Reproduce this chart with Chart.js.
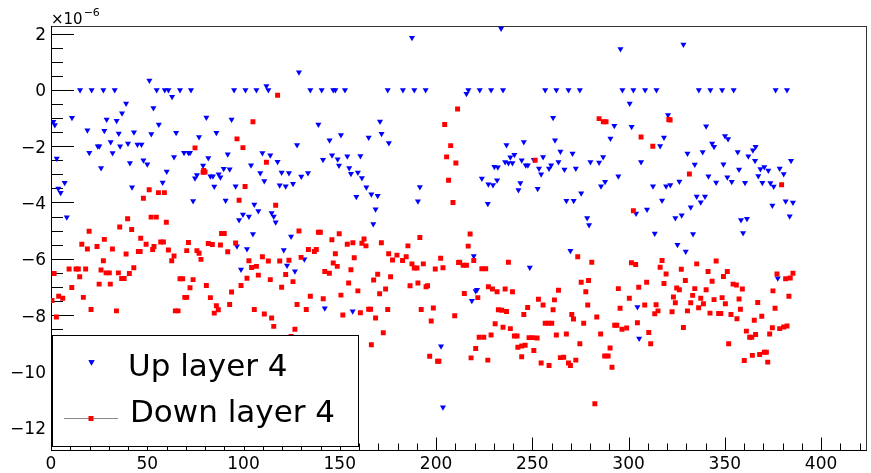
<!DOCTYPE html>
<html><head><meta charset="utf-8">
<script src="https://cdn.jsdelivr.net/npm/chart.js@4/dist/chart.umd.min.js"></script>
<style>html,body{margin:0;padding:0;background:#fff;}#wrap{width:871px;height:473px;position:relative;}</style>
</head><body><div id="wrap"><canvas id="c" width="871" height="473"></canvas></div>
<script>
// ---- data (values in units of 1e-6) ----
const seriesNames = ['Up layer 4', 'Down layer 4'];
const yExponent = '\u22126';
const xTickValues = [0, 50, 100, 150, 200, 250, 300, 350, 400];
const yTickValues = [-12, -10, -8, -6, -4, -2, 0, 2];

const upX = [1.2,2,3,3.8,5,7.1,8.2,10.9,15.1,18.9,19.9,21.1,24.3,25.1,26,27.2,27.7,28.9,31,32,33.1,34.1,35.2,35.9,36.9,39,40,41,42.1,43.1,44.9,47,48,50,51.1,52.1,53.2,54.9,56,58,59.1,60.1,61,62.9,63.9,65,67,69.1,71.4,72.2,72.7,
73.8,74.8,75.8,76.9,79,80.7,81.7,82.8,84.1,84.8,85.9,87.1,88,89.7,90.7,91.8,92.8,93.8,95.1,95.9,96.6,97.7,98.7,99.7,101,101.8,102.8,103.9,104.9,105.6,106.7,107.7,108.7,109.8,110.8,111.9,112.9,113.9,114.6,115.7,116.7,117.7,118.8,119.8,120.9,121.9,122.6,123.6,124.7,125.7,126.7,127.8,128.8,130,131.6,133.5,134.7,138.9,140.6,141.3,142.2,
144.7,146,146.6,147.7,148.9,149.6,150.6,152.7,153.9,154.9,155.8,156.7,158.6,159.4,160.7,161.5,163.8,165,166.4,167.4,168.6,169.7,170.9,171.7,174.9,175.5,182.8,187.5,188.7,190.6,191.6,194.6,202.6,203.6,
215.8,216.8,218.6,219.6,220.6,221.3,222.7,223.8,226.9,227.2,228.6,229.6,230.3,231.7,232.1,233.8,234.8,235.9,236.6,237.6,238.6,239.7,240.7,242.8,243.8,244.5,245.6,246.6,247.7,248.7,250.8,252.8,253.5,254.6,255.6,256.7,258.7,259.8,260.8,261.8,262.5,263.6,264.6,266.7,267.7,268.8,269.8,270.9,271.5,272.6,274.7,275.4,278.5,279.5,280.2,
284.7,285.7,286.8,287.8,290.6,292.6,294.7,295.8,296.8,300.6,301.6,302.5,303.9,304.6,305.5,306.5,308.6,309.6,312.7,313.6,314.5,316.4,317.4,318.4,319.5,320.5,321.7,324.3,325.4,326.4,327.6,328.5,329.7,330.6,332.3,333.5,334.4,335.4,336.5,337.5,338.5,339.7,340.3,341.5,342.5,343.4,344.4,345.5,348.6,349.3,350.1,351.3,351.7,
353.6,354.6,356.7,357.4,358.4,359.5,360.5,361.5,362.2,364.6,365.7,366,367.4,368.5,369.5,370.5,372.6,373.7,374.7,375.4,376.4,377.5,378.5,380.6,381.6,382.3,383.7,384.4,385.4];
const upY = [-1.13,-1.25,-2.44,-3.5,-3.65,-3.3,-4.52,-0.99,0,-1.43,-2.23,0,-2,-2,-2.77,0,-1.45,-1.05,-1.85,-2.24,0,-1.1,-1.55,-2,-0.83,-0.48,-1.9,-2.6,-3.46,-1.5,-1.94,-1.94,-2.5,-2.64,0.33,-1.57,-0.64,0,-1.23,-3.29,0,-2.9,0,-0.24,-2.38,-1.52,0,-2.23,-2.23,-2.23,0,
-3.95,-3.14,-3.02,-1.67,-2.69,-0.98,-2.42,-3.07,-3.07,-3.43,-1.52,-3,-3.1,-2.8,-3.93,-2.29,-2.82,-1.05,0,-3.42,-5.55,-4.62,-6.38,-4.43,0,-5.65,-4.5,-2.68,-5.12,-4.07,0,-4.3,-2.95,-2.24,-3.24,0.14,0,-2.32,-4.37,-4.5,-4.7,-2.55,-3.39,-2.93,-5.69,-3.42,-6.24,-2.95,-5.21,-3.33,-6.44,-1.96,0.63,-3.08,-6.02,-2.95,0,-1.23,0,-2.48,-7.76,
-1.79,-2.32,0,0,-2.46,-2.69,-1.6,0,-2.36,-2.77,-2.98,-7.86,-3.8,-2.93,-2.35,-3.13,-3.46,-1.69,-3.71,-4.76,-4.24,-3.76,-1.12,-1.56,0,-1.89,0,1.85,0,-3.96,-3.45,0,-9.11,-11.27,
-0.14,0,-7.49,-5.9,-7.14,-7.1,0,-3.15,-4.04,-3.35,0,-3.38,-2.73,-3.21,-2.75,2.18,0,-2.56,-1.96,-2.6,-2.39,-2.6,-2.3,-3.56,-3.31,-2.5,-1.85,-2.68,-2.68,-6.31,-2.48,-3.51,-2.79,-3,-2.38,0,-2.79,-2.68,-0.99,-1.79,0,-2.56,-2.19,-2.83,-3.94,0,-5.71,-2.26,-3.94,-2.79,0,-3.67,-4.55,-4.8,-2.56,
-2.58,-3.42,-2.38,-3.26,-1.73,-1.27,-3.07,1.45,0,-0.48,-1.31,0,-4.39,-7.71,-8.83,-2.56,0,-4.25,-3.42,-5.1,0,-1.99,-3.93,-1.69,-3.42,-0.89,-3.38,-4.55,-5.5,-3.25,-4.45,1.61,-5.74,-2.26,-4.17,-5.12,-2.65,-3.79,0,-3.99,-2.21,-3.79,-1.29,-3.07,0,-1.9,-2.02,-3.29,0,-2.64,-1.64,-3.1,-1.74,
-3.26,0,-2.21,-2.83,-4.62,-5.08,-3.3,-4.58,-2.36,-2.14,-2.52,-2.02,-3.06,-2.81,-3.3,-2.74,-2.86,-3.31,-4.11,-3.43,0,-6.69,-2.79,-2.99,-3.96,0,-4.49,-2.52,-4];

const downX = [0.5,1.6,2.8,4,6.1,9.4,10.8,13,14.2,14.9,16,16.8,18,18.9,19.8,20.8,23.9,25,26,27.2,27.7,28.6,30.3,30.8,31.9,34,35,35.7,36.7,38,39,39.8,40.7,41.9,43,45.4,46.3,46.6,48,49.4,51,52,52.8,53.5,54.7,55.8,57,58.4,58.9,59.9,61,62.7,63.9,64.6,66,67,68.4,69.5,70.5,70.5,71.4,72.2,
73.8,74.8,75.8,76.9,77.9,79,79.3,80,80.7,81.7,82.8,83.8,84.8,85.9,86.9,88,88.6,90,91.8,92.8,93.8,95.9,96.6,97.7,98.7,99.7,100.8,101.8,102.8,104.2,104.9,105.6,106.7,107.7,109.8,110.8,111.9,112.9,113.9,114.6,115.7,116.7,117.7,118.8,119.8,121.9,123.6,124.7,125.7,126.7,127.8,128.8,129.9,132.6,133.7,134.7,136.8,137.8,138.9,139.9,141.4,142.2,
144.6,145.9,146.6,147.7,148.7,149.7,150.6,151.6,153.9,154.6,155.8,156.8,157.5,159.4,160.7,161.5,162.6,163.6,165,166,166.4,167.6,168.6,169.7,170.7,171.6,172.6,173.8,174.9,175.4,176.4,177.4,179.7,182.6,184.5,185.4,186.5,187.5,188.7,190.1,190.6,191.6,192.3,193.4,194.8,195.6,196.7,197.5,198.6,199.6,200.8,201.5,202.4,203.6,204.5,205.5,206.5,207.6,208.8,209.7,210.3,211.2,211.7,
212.3,214.1,214.7,215.8,216.7,217.7,218.2,219.6,220.6,221.7,222.4,223.8,224.8,225.8,226.9,227.2,228.6,229.3,230.7,231.7,232.4,234.1,234.8,235.9,236.6,237.6,238.6,239.7,240.7,242.1,242.5,244.5,244.5,245.6,246.3,247.6,248.3,250.1,250.8,251.5,252.5,253.2,254.6,255.6,256.7,258.4,258.7,260.1,260.8,261.5,262.5,263.6,264.6,266.3,267.7,268.8,269.8,270.5,271.4,272.6,273.6,274.7,275.4,276.7,277.8,278.8,279.2,280.9,
282.5,283.5,284.7,285.5,286.9,287.6,288.3,289.4,290.4,291.4,292.8,293.9,294.7,295.6,296.6,299,300.4,301.5,302.5,303.7,304.6,305.3,306.5,308.4,309.4,310.5,311.5,312.6,313.6,314.3,315.3,316.4,317.4,318.4,319.5,320.9,321.6,322.6,323.3,324.3,325,326.4,327.4,328.5,329.5,330.6,331.6,332.3,333.3,334.4,335.4,336.4,337.5,338.9,340.3,341.3,342.3,343.4,344.4,345.5,346.8,347.9,348.6,349.3,350.3,351.3,352,
353.2,354.3,356,356.3,357.4,358.1,359.1,360.1,361.2,362.9,364,364.3,365.3,366,367.1,368.1,369.2,370.5,371.6,372.3,373.3,374.7,375,376.1,377.1,378.5,379.5,380.6,381.6,382.3,383.3,384,385.4];
const downY = [-7.48,-6.52,-8.07,-7.33,-7.4,-6.36,-7.02,-6.36,-6.36,-6.64,-5.48,-7.37,-6.36,-5.65,-5.02,-7.8,-5.56,-6.9,-6.4,-6.07,-5.31,-6.5,-6.5,-6.9,-5.65,-7.85,-6.5,-4.87,-6.7,-6.7,-5.83,-4.58,-6.52,-4.96,-6.32,-5.74,-5.74,-5.27,-3.85,-5.48,-3.55,-4.52,-5.67,-5.56,-4.52,-3.65,-5.4,-5.4,-3.65,-4.7,-5.69,-6.07,-5.9,-7.85,-7.85,-6.71,-6.71,-7.37,-5.71,-7.37,-5.42,-7.03,
-6.74,-2.06,-5.71,-5.8,-6.02,-2.93,-2.86,-2.92,-6.95,-5.46,-7.38,-5.49,-7.93,-7.67,-7.81,-5.51,-5.1,-5.1,-5.75,-7.62,-7.18,-5.44,-1.74,-3.92,-6.95,-2.05,-3.43,-6.69,-6.07,-6.31,-1.13,-7.8,-6.27,-6.58,-5.93,-7.96,-2.57,-6.08,-6.74,-8.1,-8.4,-4.1,-0.19,-6.08,-7.01,-6.56,-6.05,-8.76,-6.81,-8.5,-7.62,-5.01,-5.95,-7.8,-5.67,-7.33,-5.74,-5.67,-5.06,-5.06,-7.42,-6.45,
-6.51,-5.32,-6.15,-5.82,-6.27,-5.11,-7.29,-8,-5.48,-6.86,-6.39,-5.43,-5.96,-7.14,-7.92,-5.45,-5.3,-5.54,-7.79,-7.79,-9.05,-6.75,-8.1,-6.55,-7.24,-5.43,-8.63,-7.07,-7.8,-5.82,-6.64,-6.04,-5.87,-6.06,-5.93,-5.54,-6.96,-6.18,-6.33,-6.33,-6.86,-5.24,-7.8,-6.18,-6.99,-6.96,-9.46,-8.21,-7.75,-6.36,-9.64,-9.64,-5.98,-6.32,-1.23,-2.38,-3.21,-1.98,-4,-8.02,-2.6,-0.68,-6.13,
-6.12,-6.23,-7.23,-6.23,-5.55,-5.12,-9.52,-6.06,-9.19,-7.38,-8.79,-6.35,-8.79,-6.35,-9.6,-6.99,-8.71,-7.07,-8.31,-7.17,-7.81,-7.83,-8.43,-7.07,-7.87,-6.12,-8.48,-7.17,-8.74,-8.74,-9.14,-9.1,-9.48,-7.98,-9.07,-7.73,-8.8,-8.8,-9.26,-2.5,-8.81,-7.44,-9.7,-7.64,-8.29,-8.29,-9.79,-8.29,-7.81,-7.46,-8.71,-7.12,-9.51,-9.5,-8.67,-9.7,-9.79,-7.98,-8.14,-9.6,-5.93,-9.02,-6.83,-8.29,-7.17,-7.64,-6.77,-6.12,
-11.15,-8.07,-1.02,-8.67,-1.13,-9.45,-1.13,-9.45,-9.17,-9.85,-8.36,-8.36,-7.06,-7.76,-8.5,-8.46,-7.4,-6.14,-4.29,-6.2,-8.27,-7.01,-1.67,-7.64,-6.83,-8.62,-9.02,-2,-7.95,-7.63,-7.85,-6.3,-6.06,-6.88,-6.54,-1.05,-1.07,-7.88,-7.36,-7.56,-7.04,-7.1,-6.37,-8.44,-6.77,-7.85,-2.99,-7.56,-7.3,-7.06,-6.18,-7.74,-7.4,-7.6,-7.1,-6.45,-7.93,-6.8,-7.45,-6.08,-7.94,-7.94,-7.38,-6.63,-7.6,-6.45,-9.02,
-7.98,-6.9,-6.93,-8.13,-7.43,-7.79,-7.07,-9.61,-8.57,-8.79,-8.79,-9.43,-8.18,-8.69,-7.55,-9.4,-8.04,-9.32,-9.32,-9.67,-8.67,-8.45,-7.14,-7.76,-6.54,-8.48,-3.37,-8.42,-6.71,-8.39,-7.33,-6.68,-6.51];

// ---- chart ----
const FONT = "'DejaVu Sans', 'Liberation Sans', sans-serif";
const upPts = upX.map((x, i) => ({x: x, y: upY[i]}));
const downPts = downX.map((x, i) => ({x: x, y: downY[i]}));
const fmt = v => (v < 0 ? '\u2212' + Math.abs(v) : String(v));

const rootFrame = {
  id: 'rootFrame',
  beforeDatasetsDraw(chart) {
    const ctx = chart.ctx, a = chart.chartArea;
    const xs = chart.scales.x, ys = chart.scales.y;
    ctx.save();
    ctx.strokeStyle = '#000'; ctx.lineWidth = 1;
    ctx.beginPath();
    for (let v = -12.5; v <= ys.max + 1e-9; v += 0.5) {
      if (v < ys.min) continue;
      const py = Math.round(ys.getPixelForValue(v)) + 0.5;
      const major = Math.abs(v / 2 - Math.round(v / 2)) < 1e-9;
      const len = major ? 23 : 12;
      ctx.moveTo(a.left, py); ctx.lineTo(a.left + len, py);
    }
    for (let v = 0; v <= xs.max + 1e-9; v += 10) {
      const px = Math.round(xs.getPixelForValue(v)) + 0.5;
      const len = (v % 50 === 0) ? 13 : 7;
      ctx.moveTo(px, a.bottom); ctx.lineTo(px, a.bottom - len);
    }
    ctx.stroke();
    ctx.strokeStyle = '#333';
    ctx.strokeRect(Math.round(a.left) + 0.5, Math.round(a.top) + 0.5, Math.round(a.right - a.left) - 1, Math.round(a.bottom - a.top) - 1);
    ctx.strokeStyle = '#000';
    ctx.beginPath();
    ctx.moveTo(Math.round(a.left) + 0.5, a.top); ctx.lineTo(Math.round(a.left) + 0.5, a.bottom);
    ctx.moveTo(a.left, Math.round(a.bottom) - 0.5); ctx.lineTo(a.right, Math.round(a.bottom) - 0.5);
    ctx.stroke();
    ctx.restore();
  },
  afterDatasetsDraw(chart) {
    const ctx = chart.ctx, a = chart.chartArea;
    ctx.save();
    ctx.fillStyle = '#000';
    ctx.textBaseline = 'alphabetic';
    ctx.font = '15px ' + FONT;
    ctx.fillText('\u00d710', a.left, 24);
    const w = ctx.measureText('\u00d710').width;
    ctx.font = '11px ' + FONT;
    ctx.fillText(yExponent, a.left + w + 1, 16);
    const L = 52.5, T = 335.5, R = 358.5, B = 446.5;
    ctx.fillStyle = '#fff';
    ctx.fillRect(L, T, R - L, B - T);
    ctx.strokeStyle = '#000'; ctx.lineWidth = 1;
    ctx.strokeRect(L, T, R - L, B - T);
    const upDs = chart.data.datasets[1], downDs = chart.data.datasets[0];
    ctx.fillStyle = upDs.backgroundColor;
    Chart.helpers.drawPoint(ctx, {pointStyle: 'triangle', rotation: 180, radius: 3.5, borderWidth: 0}, 91.5, 362);
    ctx.fill();
    ctx.strokeStyle = '#888';
    ctx.beginPath(); ctx.moveTo(64, 418.5); ctx.lineTo(118, 418.5); ctx.stroke();
    ctx.fillStyle = downDs.backgroundColor;
    ctx.fillRect(88.5, 416, 5, 5);
    ctx.fillStyle = '#000';
    ctx.font = '31px ' + FONT;
    ctx.fillText(seriesNames[0], 128, 376);
    ctx.fillText(seriesNames[1], 130, 422);
    ctx.restore();
  }
};

new Chart(document.getElementById('c'), {
  type: 'scatter',
  data: {
    datasets: [
      { label: seriesNames[1], data: downPts, order: 0, pointStyle: 'rect', pointRadius: 3.5,
        backgroundColor: '#ff0000', borderWidth: 0, pointBorderWidth: 0, showLine: false },
      { label: seriesNames[0], data: upPts, order: 1, pointStyle: 'triangle', rotation: 180, pointRotation: 180, pointRadius: 3.5,
        backgroundColor: '#0000ff', borderWidth: 0, pointBorderWidth: 0, showLine: false }
    ]
  },
  options: {
    responsive: false, animation: false, devicePixelRatio: 1,
    layout: { padding: { top: 26, right: 4.5, left: 0, bottom: 0 } },
    plugins: { legend: { display: false }, tooltip: { enabled: false } },
    elements: { point: { hoverRadius: 3.5 } },
    scales: {
      x: {
        type: 'linear', min: 0, max: 423.6,
        grid: { display: false, drawTicks: false, tickLength: 0 },
        border: { display: false },
        afterBuildTicks: s => { s.ticks = xTickValues.map(v => ({value: v})); },
        afterFit: s => { s.height = 22.5; },
        ticks: { font: { family: FONT, size: 17 }, color: '#000', padding: 4, maxRotation: 0, autoSkip: false, callback: v => fmt(v) }
      },
      y: {
        type: 'linear', min: -12.81, max: 2.27,
        grid: { display: false, drawTicks: false, tickLength: 0 },
        border: { display: false },
        afterBuildTicks: s => { s.ticks = yTickValues.map(v => ({value: v})); },
        afterFit: s => { s.width = 51; },
        ticks: { font: { family: FONT, size: 17 }, color: '#000', padding: 5, labelOffset: 2, autoSkip: false, callback: v => fmt(v) }
      }
    }
  },
  plugins: [rootFrame]
});
</script></body></html>
